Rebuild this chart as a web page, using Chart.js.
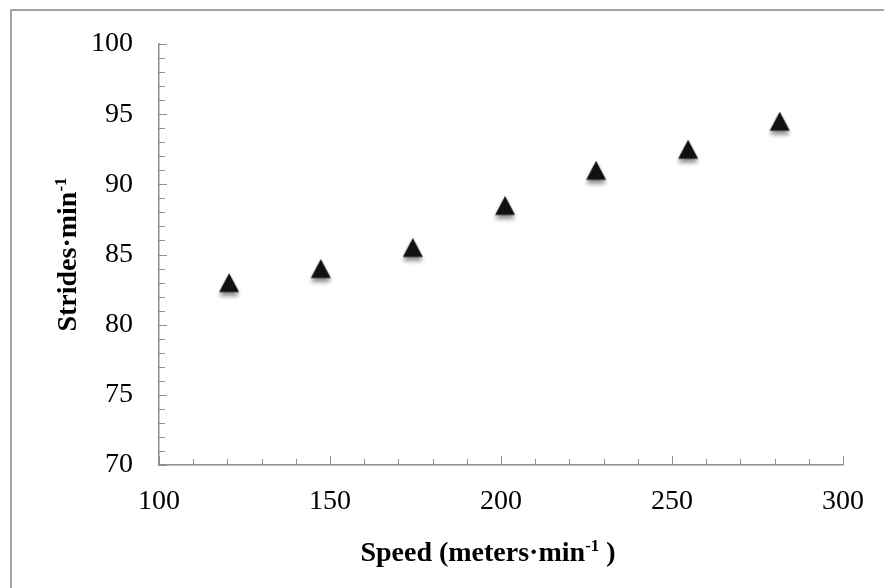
<!DOCTYPE html>
<html lang="en">
<head>
  <meta charset="UTF-8" />
  <title>Stride rate vs speed</title>
  <script src="https://cdn.jsdelivr.net/npm/chart.js"></script>
  <style>
    body { margin: 0; background: #fff; overflow: hidden; }
    .wrap { position: relative; width: 884px; height: 588px; }
    .frame { position: absolute; left: 10px; top: 9px; width: 900px; height: 600px; border: 2px solid #a3a3a3; }
    canvas { position: absolute; left: 0; top: 0; }
  </style>
</head>
<body>
  <div class="wrap">
    <div class="frame"></div>
    <canvas id="chart" width="884" height="588"></canvas>
  </div>

  <script>
    const speed = [120.5, 147.3, 174.2, 201.2, 227.8, 254.7, 281.5];
    const strides = [83.0, 84.0, 85.5, 88.5, 91.0, 92.5, 94.5];
    const xTicks = [100, 150, 200, 250, 300];
    const yTicks = [70, 75, 80, 85, 90, 95, 100];
    // axis titles as runs of normal / superscript text
    const xTitle = [['Speed (meters·min', false], ['-1', true], [' )', false]];
    const yTitle = [['Strides·min', false], ['-1', true]];

    const axisGrey = '#8f8f8f';
    const serif = "'Liberation Serif', 'Times New Roman', serif";

    // black triangle marker with a soft shadow underneath
    function triangleMarker() {
      const c = document.createElement('canvas');
      c.width = 40; c.height = 44;
      const g = c.getContext('2d');
      g.shadowColor = 'rgba(0,0,0,0.45)';
      g.shadowBlur = 4;
      g.shadowOffsetY = 4;
      g.fillStyle = '#111';
      g.beginPath();
      g.moveTo(20, 22 - 9.5);
      g.lineTo(30, 22 + 9.5);
      g.lineTo(10, 22 + 9.5);
      g.closePath();
      g.fill();
      return c;
    }

    // small inward tick marks: long at labelled values, short in between
    const tickMarks = {
      id: 'tickMarks',
      afterDraw(chart) {
        const { ctx, scales: { x, y } } = chart;
        ctx.save();
        ctx.strokeStyle = axisGrey;
        ctx.lineWidth = 1;
        const left = chart.chartArea.left, bottom = chart.chartArea.bottom;
        for (let v = 70; v <= 100; v += 1) {
          const py = Math.round(y.getPixelForValue(v)) + 0.5;
          const len = v % 5 === 0 ? 8 : 6;
          ctx.beginPath(); ctx.moveTo(left, py); ctx.lineTo(left + len, py); ctx.stroke();
        }
        for (let v = 100; v <= 300; v += 10) {
          const px = Math.round(x.getPixelForValue(v)) + 0.5;
          const len = v % 50 === 0 ? 9 : 6;
          ctx.beginPath(); ctx.moveTo(px, bottom); ctx.lineTo(px, bottom - len); ctx.stroke();
        }
        ctx.restore();
      }
    };

    // bold axis titles with a raised small "-1"
    const mainFont = 'bold 28px ' + serif;
    const supFont = 'bold 17px ' + serif;
    function runWidth(ctx, runs) {
      let w = 0;
      for (const [t, sup] of runs) { ctx.font = sup ? supFont : mainFont; w += ctx.measureText(t).width; }
      return w;
    }
    function drawRuns(ctx, runs, x, y) {
      for (const [t, sup] of runs) {
        ctx.font = sup ? supFont : mainFont;
        ctx.fillText(t, x, sup ? y - 10 : y);
        x += ctx.measureText(t).width;
      }
    }
    const axisTitles = {
      id: 'axisTitles',
      afterDraw(chart) {
        const { ctx, chartArea: a } = chart;
        ctx.save();
        ctx.fillStyle = '#000';
        ctx.textBaseline = 'alphabetic';
        ctx.textAlign = 'left';
        const xw = runWidth(ctx, xTitle);
        drawRuns(ctx, xTitle, (a.left + a.right) / 2 - 13 - xw / 2, 561);
        const yw = runWidth(ctx, yTitle);
        ctx.translate(76, (a.top + a.bottom) / 2);
        ctx.rotate(-Math.PI / 2);
        drawRuns(ctx, yTitle, -yw / 2, 0);
        ctx.restore();
      }
    };

    new Chart(document.getElementById('chart'), {
      type: 'scatter',
      data: {
        datasets: [{
          data: speed.map((s, i) => ({ x: s, y: strides[i] })),
          pointStyle: triangleMarker(),
          pointRadius: 12,
          pointHoverRadius: 12
        }]
      },
      options: {
        responsive: false,
        animation: false,
        events: [],
        layout: { padding: { left: 10, top: 44, right: 41, bottom: 0 } },
        plugins: { legend: { display: false }, tooltip: { enabled: false } },
        scales: {
          x: {
            type: 'linear',
            min: 100, max: 300,
            afterFit(scale) { scale.height = 123; },
            afterBuildTicks(scale) { scale.ticks = xTicks.map(v => ({ value: v })); },
            grid: { display: false, drawTicks: false },
            border: { display: true, color: axisGrey, width: 1.5 },
            ticks: { color: '#000', padding: 20, font: { family: serif, size: 28 } }
          },
          y: {
            type: 'linear',
            min: 70, max: 100,
            afterFit(scale) { scale.width = 149; },
            afterBuildTicks(scale) { scale.ticks = yTicks.map(v => ({ value: v })); },
            grid: { display: false, drawTicks: false },
            border: { display: true, color: axisGrey, width: 1.5 },
            ticks: { color: '#000', padding: 26, font: { family: serif, size: 28 } }
          }
        }
      },
      plugins: [tickMarks, axisTitles]
    });
  </script>
</body>
</html>
